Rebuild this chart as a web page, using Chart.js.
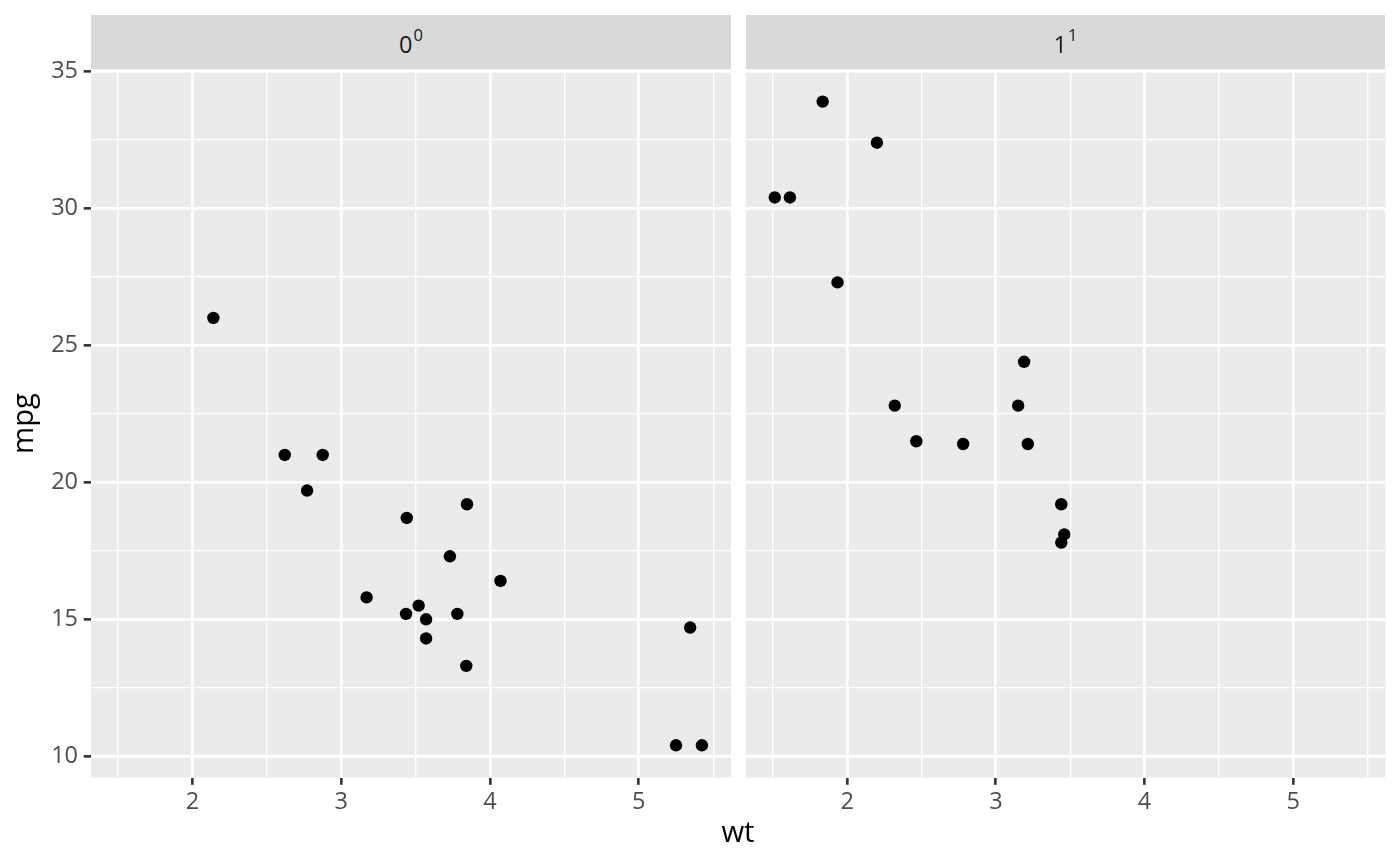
<!DOCTYPE html>
<html>
<head>
<meta charset="utf-8">
<title>mpg vs wt by vs</title>
<script src="https://cdn.jsdelivr.net/npm/chart.js@4.4.0/dist/chart.umd.min.js"></script>
<style>
  html, body { margin: 0; padding: 0; background: #fff; }
  #wrap { position: relative; width: 1400px; height: 866px; font-family: "Open Sans", sans-serif; }
  #wrap canvas { position: absolute; left: 0; top: 0; }
  .strip { position: absolute; top: 15px; height: 54px; background: #D9D9D9; color: #1A1A1A; }
  .strip span.lbl { position: absolute; left: 0; right: 0; top: 18px; text-align: center; font-size: 23.5px; line-height: 23.5px; }
  .strip span.sup { position: relative; top: -12px; font-size: 16.5px; margin-left: 1px; }
  #xtitle { position: absolute; left: 91px; width: 1294px; top: 817px; text-align: center; font-size: 29.3px; line-height: 29.3px; color: #000; }
</style>
</head>
<body>
<div id="wrap">
  <canvas id="panel0" width="1400" height="866"></canvas>
  <canvas id="panel1" width="1400" height="866"></canvas>
  <div class="strip" style="left:91px; width:640px;"><span class="lbl">0<span class="sup">0</span></span></div>
  <div class="strip" style="left:745.7px; width:639.6px;"><span class="lbl">1<span class="sup">1</span></span></div>
  <div id="xtitle">wt</div>
</div>
<script>
// facet vs = 0
const wt0  = [2.620, 2.875, 3.440, 3.570, 4.070, 3.730, 3.780, 5.250, 5.424, 5.345, 3.520, 3.435, 3.840, 3.845, 2.140, 3.170, 2.770, 3.570];
const mpg0 = [21.0, 21.0, 18.7, 14.3, 16.4, 17.3, 15.2, 10.4, 10.4, 14.7, 15.5, 15.2, 13.3, 19.2, 26.0, 15.8, 19.7, 15.0];
// facet vs = 1
const wt1  = [2.320, 3.215, 3.460, 3.190, 3.150, 3.440, 3.440, 2.200, 1.615, 1.835, 2.465, 1.935, 1.513, 2.780];
const mpg1 = [22.8, 21.4, 18.1, 24.4, 22.8, 19.2, 17.8, 32.4, 30.4, 33.9, 21.5, 27.3, 30.4, 21.4];

// axes (major ticks labelled, minor ones only get a thin grid line)
const xTicks = [1.5, 2, 2.5, 3, 3.5, 4, 4.5, 5, 5.5];
const xMajor = [2, 3, 4, 5];
const yTicks = [10, 12.5, 15, 17.5, 20, 22.5, 25, 27.5, 30, 32.5, 35];
const yMajor = [10, 15, 20, 25, 30, 35];
const xRange = [1.31745, 5.61955];
const yRange = [9.225, 35.075];

const W = 1400, H = 866;
const PANEL_TOP = 69.4, PANEL_BOTTOM = 777.5;

const panelBg = {
  id: 'panelBg',
  beforeDraw(chart) {
    const { ctx, chartArea: a } = chart;
    ctx.save();
    ctx.fillStyle = '#EBEBEB';
    ctx.fillRect(a.left, a.top, a.right - a.left, a.bottom - a.top);
    ctx.restore();
  }
};

function gridOpts(major, drawTicks) {
  return {
    color: '#FFFFFF',
    lineWidth: c => major.includes(c.tick && c.tick.value) ? 2.7 : 1.35,
    drawTicks: drawTicks,
    tickLength: 7.3,
    tickColor: c => major.includes(c.tick && c.tick.value) ? '#333333' : 'rgba(0,0,0,0)',
    tickWidth: 2.6
  };
}

function makePanel(id, xs, ys, left, right, showY) {
  const points = xs.map((x, i) => ({ x: x, y: ys[i] }));
  return new Chart(document.getElementById(id), {
    type: 'scatter',
    data: {
      datasets: [{
        data: points,
        pointRadius: 6.2,
        pointBackgroundColor: '#000000',
        pointBorderWidth: 0,
        pointHoverRadius: 6.2
      }]
    },
    options: {
      responsive: false,
      animation: false,
      events: [],
      layout: { padding: { left: showY ? 0 : left, right: W - right, top: PANEL_TOP, bottom: 0 } },
      plugins: { legend: { display: false }, tooltip: { enabled: false } },
      scales: {
        x: {
          type: 'linear',
          min: xRange[0],
          max: xRange[1],
          bounds: 'data',
          afterBuildTicks: s => { s.ticks = xTicks.map(v => ({ value: v })); },
          afterFit: s => { s.height = H - PANEL_BOTTOM; },
          border: { display: false },
          grid: gridOpts(xMajor, true),
          ticks: {
            autoSkip: false,
            maxRotation: 0,
            padding: 3,
            color: '#4D4D4D',
            font: { family: 'Open Sans', size: 23.5 },
            callback: v => xMajor.includes(v) ? String(v) : ''
          }
        },
        y: {
          type: 'linear',
          min: yRange[0],
          max: yRange[1],
          bounds: 'data',
          afterBuildTicks: s => { s.ticks = yTicks.map(v => ({ value: v })); },
          afterFit: s => { s.width = showY ? left : 0; },
          border: { display: false },
          grid: gridOpts(yMajor, showY),
          title: {
            display: showY,
            text: 'mpg',
            color: '#000000',
            font: { family: 'Open Sans', size: 29.3 },
            padding: { top: 7, bottom: 0 }
          },
          ticks: {
            display: showY,
            autoSkip: false,
            padding: 5.7,
            color: '#4D4D4D',
            font: { family: 'Open Sans', size: 23.5 },
            callback: v => yMajor.includes(v) ? String(v) : ''
          }
        }
      }
    },
    plugins: [panelBg]
  });
}

makePanel('panel0', wt0, mpg0, 91, 731, true);
makePanel('panel1', wt1, mpg1, 745.7, 1385.3, false);
</script>
</body>
</html>
